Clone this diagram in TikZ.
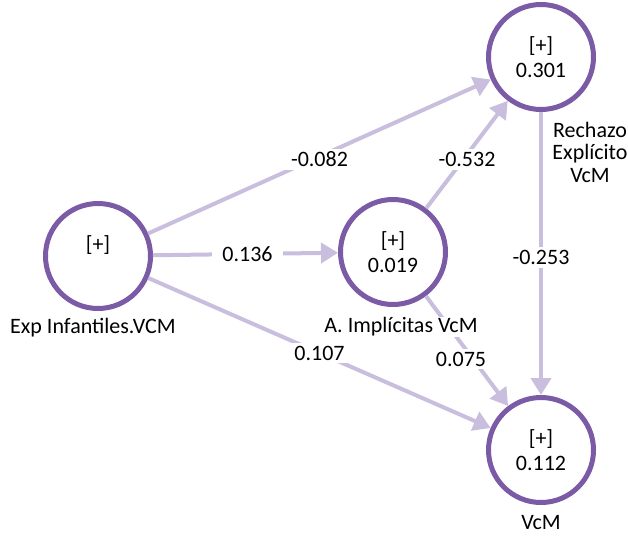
\documentclass[tikz,border=0pt]{standalone}
\usepackage{fontspec}
\setmainfont{Carlito}
\usetikzlibrary{arrows.meta}
\definecolor{ring}{HTML}{7B5BA6}
\definecolor{path}{HTML}{C9BEDD}
\tikzset{
  construct/.style={circle, draw=ring, line width=5pt, fill=white,
    minimum size=105pt, inner sep=0pt, align=center,
    font=\fontsize{22}{25}\selectfont},
  caption/.style={align=center, inner sep=1pt, fill=white,
    font=\fontsize{22}{22.5}\selectfont},
  link/.style={draw=path, line width=4pt,
    -{Triangle[length=17pt,width=20pt]}},
  coef/.style={fill=white, inner xsep=10pt, inner ysep=3pt,
    font=\fontsize{22}{25}\selectfont}
}
\begin{document}
\begin{tikzpicture}[x=1pt,y=-1pt]
  \useasboundingbox (0,0) rectangle (628,535);
  % constructs
  \node[construct] (exp) at (98,256) {[+]\\\phantom{0.000}};
  \node[construct] (imp) at (393,252) {[+]\\0.019};
  \node[construct] (rej) at (541,57) {[+]\\0.301};
  \node[construct] (vcm) at (541,450) {[+]\\0.112};
  % path coefficients
  \draw[link] (exp) -- node[coef, yshift=-3pt] {-0.082} (rej);
  \draw[link] (exp) -- node[coef, xshift=2pt] {0.136} (imp);
  \draw[link] (exp) -- node[coef] {0.107} (vcm);
  \draw[link] (imp) -- node[coef, yshift=-5pt] {-0.532} (rej);
  \draw[link] (imp) -- node[coef, xshift=-6pt, yshift=-8pt] {0.075} (vcm);
  \draw[link] (rej) -- node[coef, yshift=-4pt] {-0.253} (vcm);
  % construct names, over the connectors
  \node[caption] (expname) at (93,328) {Exp Infantiles.VCM};
  \node[caption] (impname) at (401,327) {A. Implícitas VcM};
  \node[caption] (rejname) at (590,152) {Rechazo\\Explícito\\VcM};
  \node[caption] (vcmname) at (541,523) {VcM};
\end{tikzpicture}
\end{document}
